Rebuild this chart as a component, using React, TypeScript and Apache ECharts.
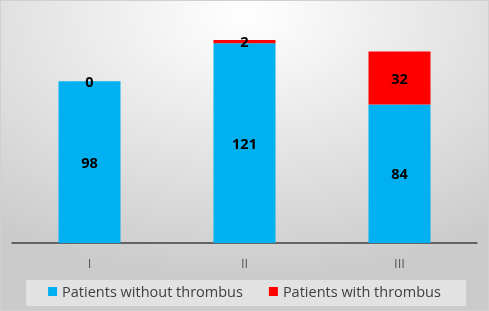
import React, { useEffect, useRef } from "react";
import * as echarts from "echarts";

const categories = ["I", "II", "III"];
const withoutThrombus = [98, 121, 84];
const withThrombus = [0, 2, 32];
const seriesNames = ["Patients without thrombus", "Patients with thrombus"];

export default function App() {
  const ref = useRef<HTMLDivElement>(null);
  useEffect(() => {
    if (!ref.current) return;
    const chart = echarts.init(ref.current, null, { renderer: "svg" });
    const labelStyle = {
      show: true,
      position: "inside" as const,
      color: "#000",
      fontWeight: "bold" as const,
      fontSize: 14.5,
      fontFamily: "Open Sans",
    };
    chart.setOption({
      animation: false,
      backgroundColor: new echarts.graphic.RadialGradient(0.5, 0.05, 0.85, [
        { offset: 0, color: "#ffffff" },
        { offset: 1, color: "#cbcbcb" },
      ]),
      grid: { left: 11, right: 11, top: 11, bottom: 67 },
      graphic: [
        {
          type: "rect",
          shape: { x: 25, y: 279, width: 440, height: 26 },
          style: { fill: "#e2e2e2" },
          z: -1,
        },
      ],
      legend: {
        top: 278,
        left: "center",
        itemWidth: 9,
        itemHeight: 9,
        itemGap: 26,
        icon: "rect",
        textStyle: { fontSize: 14.5, color: "#404040", fontFamily: "Open Sans" },
        data: seriesNames,
      },
      xAxis: {
        type: "category",
        data: categories,
        axisLine: { lineStyle: { color: "#404040", width: 1.5 } },
        axisTick: { show: false },
        axisLabel: { color: "#595959", fontSize: 13, margin: 13, fontFamily: "Open Sans" },
      },
      yAxis: {
        type: "value",
        min: 0,
        max: 140,
        show: false,
        splitLine: { show: false },
      },
      series: [
        {
          name: seriesNames[0],
          type: "bar",
          stack: "total",
          data: withoutThrombus,
          barWidth: 62,
          itemStyle: { color: "#00B0F0" },
          label: labelStyle,
        },
        {
          name: seriesNames[1],
          type: "bar",
          stack: "total",
          data: withThrombus,
          barWidth: 62,
          itemStyle: { color: "#FF0000" },
          label: labelStyle,
        },
      ],
    });
    return () => chart.dispose();
  }, []);
  return (
    <div
      ref={ref}
      style={{
        position: "fixed",
        left: 0,
        top: 0,
        width: 487,
        height: 309,
        border: "1px solid #d0d0d0",
      }}
    />
  );
}
